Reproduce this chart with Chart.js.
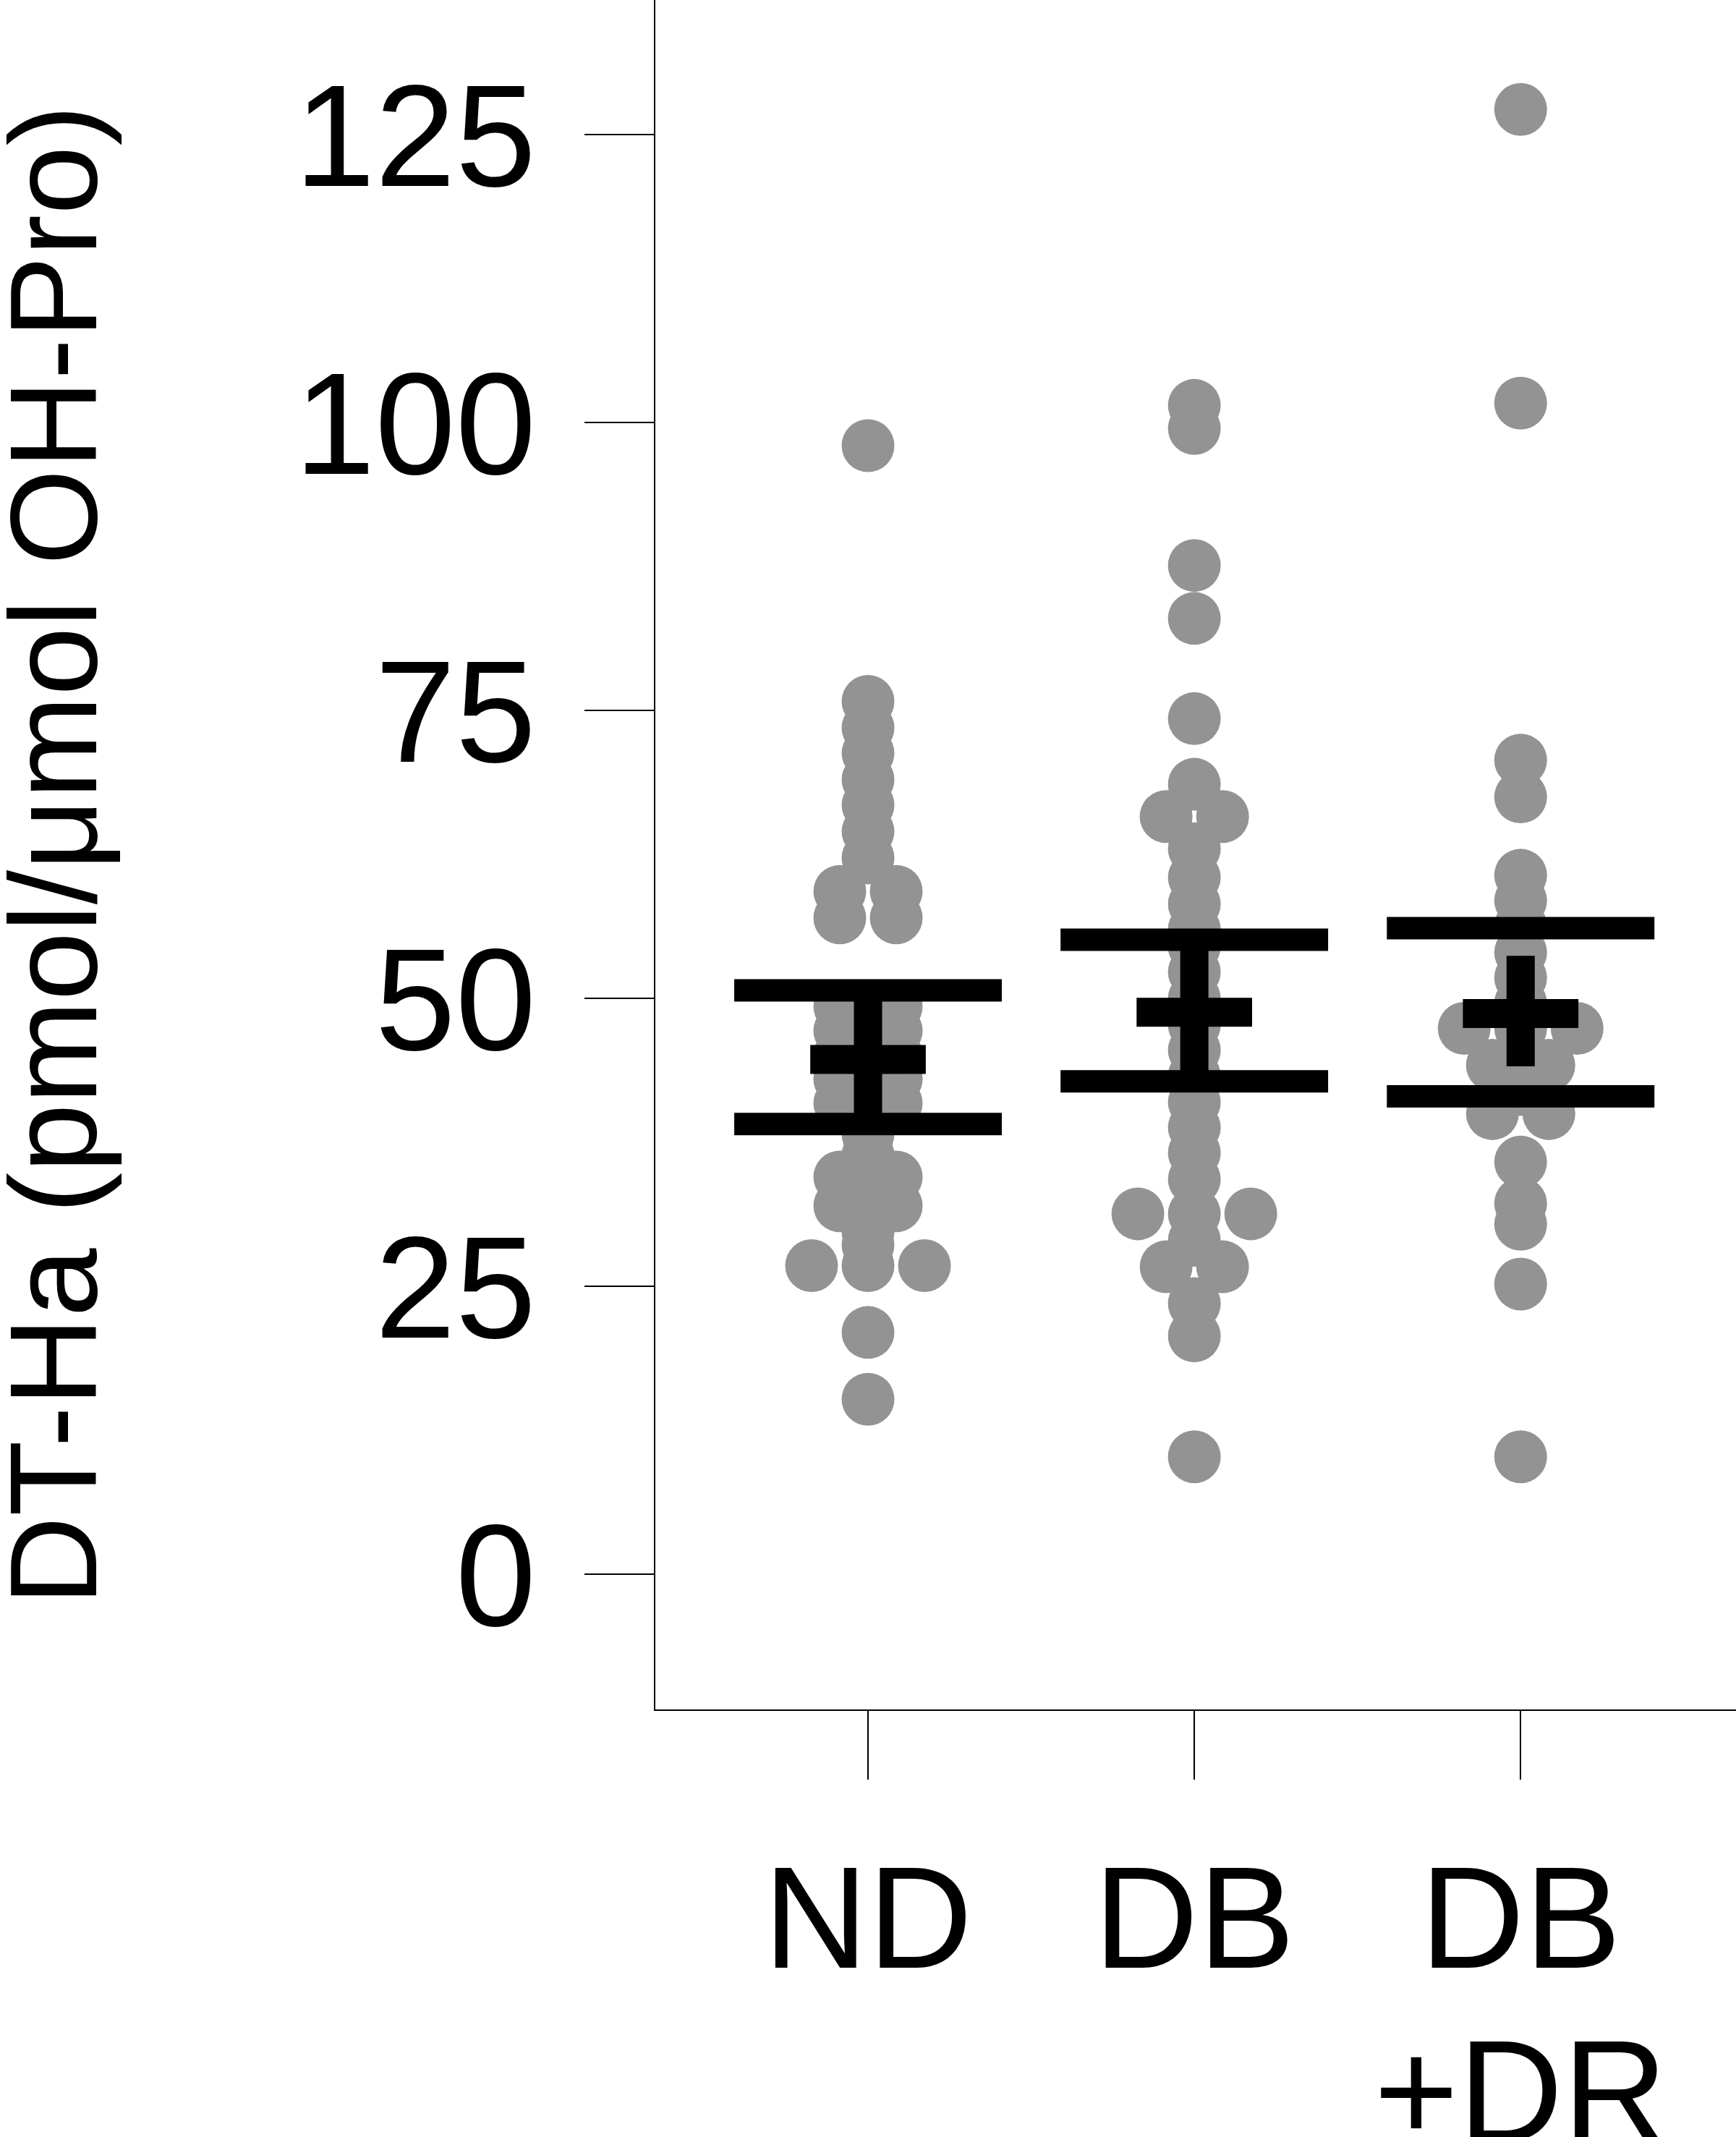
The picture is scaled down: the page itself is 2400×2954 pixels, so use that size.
<!DOCTYPE html>
<html><head><meta charset="utf-8">
<script src="https://cdn.jsdelivr.net/npm/chart.js@4"></script>
<style>html,body{margin:0;padding:0;background:#fff}canvas{display:block}</style>
</head><body>
<canvas id="c" width="2400" height="2954"></canvas>
<script>
// ---- data ----
const categories = ['ND', 'DB', ['DB', '+DR']];
const categoryPositions = [1, 2, 3];
const yTickValues = [0, 25, 50, 75, 100, 125];
const yTitle = 'DT-Ha (pmol/μmol OH-Pro)';

const ndValues = [98.0, 75.8, 73.5, 71.3, 69.0, 66.8, 64.5, 62.2,
  59.3, 59.3, 57.0, 57.0,
  49.3, 49.3, 48.2, 47.2, 47.2, 46.1, 45.1, 45.1, 44.0, 43.0, 43.0, 41.9, 40.9, 40.9,
  38.2, 36.4, 34.5, 34.5, 33.3, 32.0, 32.0, 30.8, 29.7, 28.6,
  26.8, 26.8, 26.8, 21.0, 15.2];
const dbValues = [101.5, 99.5, 87.6, 83.0, 74.3, 68.6, 65.8, 65.8,
  63.0, 60.5, 58.2, 56.0, 54.5, 52.3, 50.0, 47.7, 45.5, 43.3,
  41.0, 38.8, 36.6, 34.3, 31.3, 31.3, 31.3, 29.0, 26.7, 26.7, 23.5, 20.7, 10.2];
const drValues = [127.2, 101.7, 70.7, 67.5, 60.7, 58.5, 56.3, 54.0, 51.8, 49.6,
  47.4, 47.4, 47.4, 44.2, 44.2, 42.1, 40.0, 40.0, 35.8, 32.2, 30.4, 25.2, 10.2];

const groupMeans = [44.7, 48.8, 48.7];
const sdUpper = [50.7, 55.1, 56.1];
const sdLower = [39.1, 42.8, 41.5];
const ciUpper = [50.3, 54.3, 53.7];
const ciLower = [39.5, 43.5, 44.1];

// ---- layout / style constants ----
const FONT = "'Liberation Sans', Arial, Helvetica, sans-serif";
const DOT_STEP = 0.173;   // horizontal spacing of dots sharing a bin (x units)
const SD_HALF = 0.41;
const MEAN_HALF = 0.177;

function swarm(values, center) {
  const groups = new Map();
  values.forEach(v => {
    const k = v.toFixed(2);
    if (!groups.has(k)) groups.set(k, []);
    groups.get(k).push(v);
  });
  const pts = [];
  groups.forEach(list => {
    const n = list.length;
    list.forEach((v, i) => pts.push({ x: center + (i - (n - 1) / 2) * DOT_STEP, y: v }));
  });
  return pts;
}

const datasets = [];
[ndValues, dbValues, drValues].forEach((vals, gi) => {
  datasets.push({
    type: 'scatter', data: swarm(vals, categoryPositions[gi]),
    pointRadius: 36.5, pointHoverRadius: 36.5, backgroundColor: '#939393',
    borderWidth: 0, pointBorderWidth: 0, order: 2
  });
});
function seg(x1, y1, x2, y2, w) {
  datasets.push({
    type: 'line', data: [{ x: x1, y: y1 }, { x: x2, y: y2 }],
    borderColor: '#000', borderWidth: w, borderCapStyle: 'butt',
    pointRadius: 0, fill: false, tension: 0, order: 1
  });
}
categoryPositions.forEach((c, i) => {
  seg(c, ciLower[i], c, ciUpper[i], 39);
  seg(c - SD_HALF, sdUpper[i], c + SD_HALF, sdUpper[i], 31);
  seg(c - SD_HALF, sdLower[i], c + SD_HALF, sdLower[i], 31);
  seg(c - MEAN_HALF, groupMeans[i], c + MEAN_HALF, groupMeans[i], 40);
});

new Chart(document.getElementById('c'), {
  type: 'scatter',
  data: { datasets },
  options: {
    responsive: false, animation: false, events: [],
    layout: { padding: 0, autoPadding: false },
    plugins: { legend: { display: false }, tooltip: { enabled: false } },
    scales: {
      x: {
        type: 'linear', min: 0.346, max: 3.66,
        afterBuildTicks: s => { s.ticks = categoryPositions.map(v => ({ value: v })); },
        afterFit: s => { s.height = 590; s.paddingLeft = 0; s.paddingRight = 0; },
        ticks: {
          callback: v => categories[categoryPositions.indexOf(v)],
          font: { family: FONT, size: 200, lineHeight: 1.2 }, color: '#000',
          padding: 85, maxRotation: 0, minRotation: 0, autoSkip: false
        },
        grid: { drawOnChartArea: false, drawTicks: true, tickLength: 96, color: '#000', lineWidth: 2 },
        border: { display: true, color: '#000', width: 2 }
      },
      y: {
        type: 'linear', min: -11.8, max: 136.7,
        afterBuildTicks: s => { s.ticks = yTickValues.map(v => ({ value: v })); },
        afterFit: s => { s.width = 905; s.paddingTop = 0; s.paddingBottom = 0; },
        ticks: { font: { family: FONT, size: 200 }, color: '#000', padding: 67, labelOffset: 16, callback: v => String(v) },
        grid: { drawOnChartArea: false, drawTicks: true, tickLength: 97, color: '#000', lineWidth: 2 },
        border: { display: true, color: '#000', width: 2 },
        title: { display: true, text: yTitle, font: { family: FONT, size: 171, lineHeight: 1 }, color: '#000', padding: 0 }
      }
    }
  }
});
</script>
</body></html>
